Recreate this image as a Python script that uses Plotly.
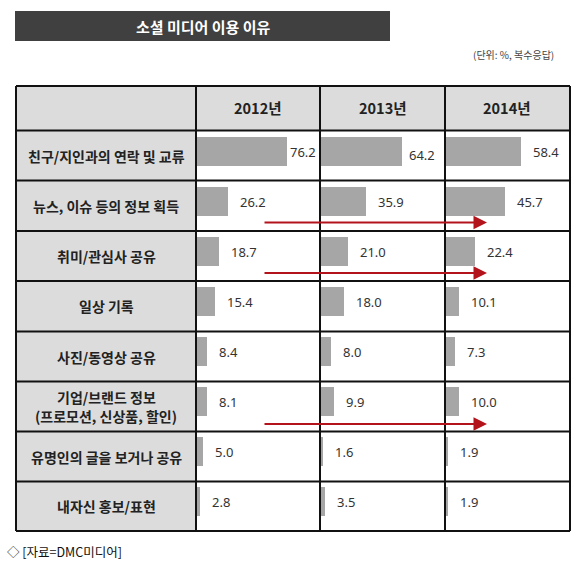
import plotly.graph_objects as go

W, H = 587, 564

rows = [
    "친구/지인과의 연락 및 교류",
    "뉴스, 이슈 등의 정보 획득",
    "취미/관심사 공유",
    "일상 기록",
    "사진/동영상 공유",
    "기업/브랜드 정보<br>(프로모션, 신상품, 할인)",
    "유명인의 글을 보거나 공유",
    "내자신 홍보/표현",
]
years = ["2012년", "2013년", "2014년"]
v2012 = [76.2, 26.2, 18.7, 15.4, 8.4, 8.1, 5.0, 2.8]
v2013 = [64.2, 35.9, 21.0, 18.0, 8.0, 9.9, 1.6, 3.5]
v2014 = [58.4, 45.7, 22.4, 10.1, 7.3, 10.0, 1.9, 1.9]
values = [v2012, v2013, v2014]
# rows that get the red trend arrow
arrow_rows = [1, 2, 5]

KR = "Noto Sans CJK KR"
BAR = "#a6a6a6"
RED = "#b3141c"


def px(x):
    return x / W


def py(y):
    return 1 - y / H


# table geometry (pixels)
left, right, top, head_bot, bottom = 16, 570, 86, 130.5, 531
col_x = [196, 320, 445, 570]
row_y = [130.5, 180.5, 231, 281, 331.5, 381.5, 431.5, 481.5, 531]

fig = go.Figure()

axis_names = ["x", "x2", "x3"]
x_ranges = [104, 98, 96]
for i, vals in enumerate(values):
    fig.add_trace(go.Bar(
        x=vals, y=rows, orientation="h",
        xaxis=axis_names[i], yaxis="y",
        marker=dict(color=BAR, line=dict(width=0)),
        width=0.57, offset=-0.38,
        hoverinfo="x+y", showlegend=False,
    ))

layout_axes = {}
for i in range(3):
    key = "xaxis" if i == 0 else f"xaxis{i + 1}"
    layout_axes[key] = dict(
        domain=[px(col_x[i] + 1), px(col_x[i + 1])],
        range=[0, x_ranges[i]], anchor="y",
        showgrid=False, showticklabels=False, zeroline=False,
        showline=False, fixedrange=True,
    )

annotations = []
# value labels (the long first-row bars leave less room before the cell edge)
first_row_gap = [1, 5, 10]
for i, vals in enumerate(values):
    for k, (r, v) in enumerate(zip(rows, vals)):
        annotations.append(dict(
            x=v, y=r, xref=axis_names[i], yref="y",
            text=f"{v:.1f}", showarrow=False,
            xanchor="left", yanchor="middle",
            xshift=first_row_gap[i] if k == 0 else 10,
            yshift=1 if (k == 0 and i == 1) else 4,
            font=dict(family="Noto Sans", size=13, color="#333333"),
        ))

# row labels
for r, y0, y1 in zip(rows, row_y[:-1], row_y[1:]):
    lines = r.split("<br>")
    mid = (y0 + y1) / 2
    for j, line in enumerate(lines):
        yy = mid + (j - (len(lines) - 1) / 2) * 19
        annotations.append(dict(
            x=px((left + col_x[0]) / 2), y=py(yy),
            xref="paper", yref="paper", text=f"<b>{line}</b>",
            showarrow=False, xanchor="center", yanchor="middle",
            borderpad=0,
            font=dict(family=KR, size=14, color="#222222"),
        ))

# header
for i, yr in enumerate(years):
    annotations.append(dict(
        x=px((col_x[i] + col_x[i + 1]) / 2), y=py(108),
        xref="paper", yref="paper", text=f"<b>{yr}</b>", showarrow=False,
        xanchor="center", yanchor="middle",
        font=dict(family=KR, size=14.5, color="#222222"),
    ))

# title, unit, source
annotations += [
    dict(x=px(203), y=py(26), xref="paper", yref="paper",
         xanchor="center", yanchor="middle",
         text="<b>소셜 미디어 이용 이유</b>", showarrow=False,
         font=dict(family=KR, size=15, color="white")),
    dict(x=px(556), y=py(55), xref="paper", yref="paper",
         xanchor="right", yanchor="middle",
         text="(단위: %, 복수응답)", showarrow=False,
         font=dict(family=KR, size=10, color="#444444")),
    dict(x=px(5), y=py(551), xref="paper", yref="paper",
         xanchor="left", yanchor="middle",
         text="◇ [자료=DMC미디어]", showarrow=False,
         font=dict(family=KR, size=12.5, color="#111111")),
]

# red trend arrows
arrow_y = {1: 222.5, 2: 273, 5: 424}
for r in arrow_rows:
    annotations.append(dict(
        x=px(487), y=py(arrow_y[r]), xref="paper", yref="paper",
        ax=263 - 487, ay=0, axref="pixel", ayref="pixel",
        text="", showarrow=True, arrowhead=2, arrowsize=1.5,
        arrowwidth=1.8, arrowcolor=RED, standoff=0,
    ))

shapes = [
    # title box
    dict(type="rect", xref="paper", yref="paper", x0=px(15), x1=px(390),
         y0=py(41), y1=py(11), fillcolor="#404040", line=dict(width=0),
         layer="below"),
    # gray cells
    dict(type="rect", xref="paper", yref="paper", x0=px(left), x1=px(col_x[0]),
         y0=py(bottom), y1=py(top), fillcolor="#dcdcdc", line=dict(width=0),
         layer="below"),
    dict(type="rect", xref="paper", yref="paper", x0=px(left), x1=px(right),
         y0=py(head_bot), y1=py(top), fillcolor="#dcdcdc", line=dict(width=0),
         layer="below"),
]
line_style = dict(color="#111111", width=2)
for x in [left] + col_x:
    shapes.append(dict(type="line", xref="paper", yref="paper",
                       x0=px(x), x1=px(x), y0=py(bottom), y1=py(top),
                       line=line_style))
for y in [top] + row_y:
    shapes.append(dict(type="line", xref="paper", yref="paper",
                       x0=px(left), x1=px(right), y0=py(y), y1=py(y),
                       line=line_style))

fig.update_layout(
    width=W, height=H,
    margin=dict(l=0, r=0, t=0, b=0),
    paper_bgcolor="white", plot_bgcolor="rgba(0,0,0,0)",
    yaxis=dict(domain=[py(bottom), py(head_bot)], type="category",
               categoryorder="array", categoryarray=rows,
               range=[7.5, -0.5], showgrid=False, showticklabels=False,
               zeroline=False, fixedrange=True),
    annotations=annotations, shapes=shapes,
    bargap=0, showlegend=False,
    **layout_axes,
)

# drop the default page margin so the figure sits at the window's corner
fig.write_html("out.html", post_script="document.body.style.margin='0px';",
               config={"displayModeBar": False})
